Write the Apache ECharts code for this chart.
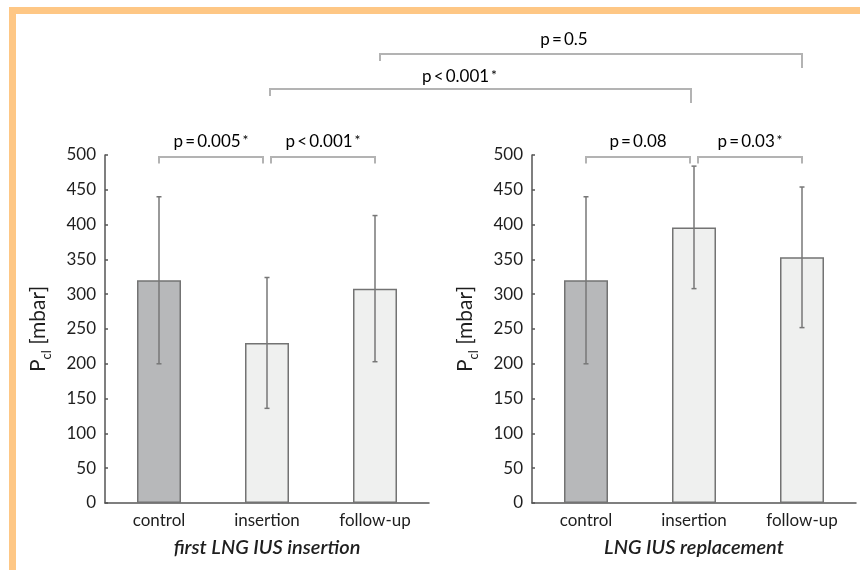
<!DOCTYPE html>
<html>
<head>
<meta charset="utf-8">
<script src="https://cdn.jsdelivr.net/npm/echarts@6/dist/echarts.min.js"></script>
<style>
  html, body { margin: 0; padding: 0; background: #fff; }
  #chart { width: 860px; height: 570px; }
</style>
</head>
<body>
<div id="chart"></div>
<script>
// ---- data ----
const categories = ['control', 'insertion', 'follow-up'];
const firstMean = [320, 230, 308];
const firstSD = [120, 94, 105];
const replMean = [320, 396, 353];
const replSD = [120, 88, 101];
const yTicks = [0, 50, 100, 150, 200, 250, 300, 350, 400, 450, 500];
const groupTitles = ['first LNG IUS insertion', 'LNG IUS replacement'];
// p-value annotations: [chart, from category, to category, value, operator, significant]
const innerTests = [
  [0, 'control', 'insertion', '0.005', '=', true],
  [0, 'insertion', 'follow-up', '0.001', '<', true],
  [1, 'control', 'insertion', '0.08', '=', false],
  [1, 'insertion', 'follow-up', '0.03', '=', true]
];
const crossTests = [
  ['insertion', 'insertion', '0.001', '<', true],
  ['follow-up', 'follow-up', '0.5', '=', false]
];

const FONT = 'Lato';
const TXT = '#1e1e1e';
const AX = '#555';

const chart = echarts.init(document.getElementById('chart'), null, { renderer: 'canvas' });

function grid(left) { return { left: left, top: 155, width: 324, height: 348, containLabel: false }; }

function xAxis(i) {
  return {
    type: 'category', gridIndex: i, data: categories,
    axisLine: { lineStyle: { color: AX, width: 1.5 } },
    axisTick: { show: false },
    axisLabel: { fontFamily: FONT, fontSize: 17, color: TXT, margin: 9 },
    name: groupTitles[i], nameLocation: 'middle', nameGap: 35,
    nameTextStyle: { fontFamily: FONT, fontSize: 20, fontStyle: 'italic', fontWeight: 600, color: TXT }
  };
}
function yAxis(i) {
  return {
    type: 'value', gridIndex: i, min: 0, max: 500, interval: 50,
    axisLine: { show: true, lineStyle: { color: AX, width: 1.5 } },
    axisTick: { show: true, inside: true, length: 3, lineStyle: { color: AX, width: 1.5 } },
    splitLine: { show: false },
    axisLabel: { fontFamily: FONT, fontSize: 17, color: TXT, margin: 9,
      formatter: v => yTicks.indexOf(v) >= 0 ? String(v) : '' },
    name: '{p|P}{s|cl}{p| [mbar]}', nameLocation: 'middle', nameGap: 53, nameRotate: 90,
    nameTextStyle: {
      rich: {
        p: { fontFamily: FONT, fontSize: 21, color: TXT, lineHeight: 24, verticalAlign: 'top' },
        s: { fontFamily: FONT, fontSize: 13, color: TXT, lineHeight: 13, verticalAlign: 'top', padding: [12, 0, 0, 0] }
      }
    }
  };
}

function barSeries(i, mean) {
  return {
    type: 'bar', xAxisIndex: i, yAxisIndex: i, data: mean, barWidth: 44,
    itemStyle: {
      color: p => p.dataIndex === 0 ? '#b7b8ba' : '#eff0ef',
      borderColor: '#737373', borderWidth: 1.5
    },
    emphasis: { disabled: true }, z: 2
  };
}
function errSeries(i, mean, sd) {
  return {
    type: 'custom', xAxisIndex: i, yAxisIndex: i, z: 5,
    data: mean.map((m, k) => [k, m - sd[k], m + sd[k]]),
    renderItem: (params, api) => {
      const lo = api.coord([api.value(0), api.value(1)]);
      const hi = api.coord([api.value(0), api.value(2)]);
      const st = { stroke: '#777', lineWidth: 1.5 };
      const c = 2.5;
      return { type: 'group', children: [
        { type: 'line', shape: { x1: lo[0], y1: lo[1], x2: hi[0], y2: hi[1] }, style: st },
        { type: 'line', shape: { x1: lo[0] - c, y1: lo[1], x2: lo[0] + c, y2: lo[1] }, style: st },
        { type: 'line', shape: { x1: hi[0] - c, y1: hi[1], x2: hi[0] + c, y2: hi[1] }, style: st }
      ]};
    }
  };
}

chart.setOption({
  backgroundColor: '#fff',
  animation: false,
  grid: [grid(105), grid(532)],
  xAxis: [xAxis(0), xAxis(1)],
  yAxis: [yAxis(0), yAxis(1)],
  series: [
    barSeries(0, firstMean), errSeries(0, firstMean, firstSD),
    barSeries(1, replMean), errSeries(1, replMean, replSD)
  ]
});

// ---- annotations ----
const BR = { stroke: '#b3b3b3', lineWidth: 2, fill: null };
const pRich = {
  t: { fontFamily: FONT, fontSize: 17, color: TXT },
  a: { fontFamily: FONT, fontSize: 14, color: TXT, verticalAlign: 'top', lineHeight: 14 }
};
function pLabel(val, op, sig) {
  return '{t|p\u2009' + op + '\u2009' + val + '}' + (sig ? '{a|\u2009*}' : '');
}
function cx(ci, cat) { return chart.convertToPixel({ xAxisIndex: ci }, cat); }

const graphics = [];
// orange frame
graphics.push({ type: 'polyline', shape: { points: [[12.5, 575], [12.5, 10.5], [865, 10.5]] },
  style: { stroke: '#fec785', lineWidth: 7, fill: null }, z: 1 });

innerTests.forEach(([ci, a, b, val, op, sig], k) => {
  let x1 = cx(ci, a), x2 = cx(ci, b);
  if (k % 2 === 0) x2 -= 4; else x1 += 4;
  const y = 157, leg = 6.5;
  graphics.push({ type: 'polyline', shape: { points: [[x1, y + leg], [x1, y], [x2, y], [x2, y + leg]] }, style: BR });
  graphics.push({ type: 'text', x: (x1 + x2) / 2, y: 142,
    style: { text: pLabel(val, op, sig), rich: pRich, align: 'center', verticalAlign: 'middle' } });
});

const crossY = [89, 54];
const crossTextY = [77, 40];
const crossTextShift = [-21, -27];
crossTests.forEach(([a, b, val, op, sig], k) => {
  const x1 = cx(0, a) + 3 + k * 2;
  const x2 = cx(1, b) - 3 + k * 3;
  const y = crossY[k];
  graphics.push({ type: 'polyline', shape: { points: [[x1, y + 7], [x1, y], [x2, y], [x2, y + 14]] }, style: BR });
  graphics.push({ type: 'text', x: (x1 + x2) / 2 + crossTextShift[k], y: crossTextY[k],
    style: { text: pLabel(val, op, sig), rich: pRich, align: 'center', verticalAlign: 'middle' } });
});

chart.setOption({ graphic: graphics });
</script>
</body>
</html>
